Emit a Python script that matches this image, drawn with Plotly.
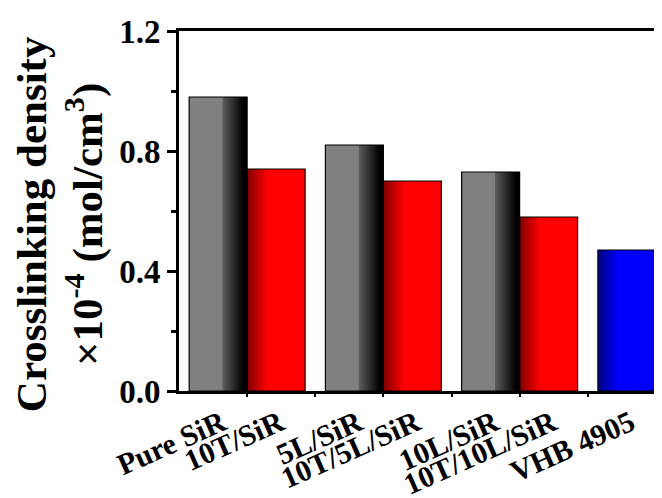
import plotly.graph_objects as go

# ---- data ----
labels_a = ["Pure SiR", "5L/SiR", "10L/SiR", "VHB 4905"]
values_a = [0.98, 0.82, 0.73, 0.47]
labels_b = ["10T/SiR", "10T/5L/SiR", "10T/10L/SiR"]
values_b = [0.74, 0.70, 0.58]
y_ticks = [0.0, 0.4, 0.8, 1.2]

# ---- style ----
FONT = "Liberation Serif, Times New Roman, serif"
BAR_W = 0.4255
N = 40
STRIP = BAR_W / N
groups_a = list(range(len(values_a)))
groups_b = list(range(len(values_b)))


def gray_col(t):
    if t < 0.58:
        v = 128
    elif t < 0.94:
        v = int(92 * (1 - (t - 0.58) / 0.36))
    else:
        v = 0
    return f"rgb({v},{v},{v})"


def red_col(t):
    v = int(128 + 127 * min(t / 0.36, 1.0))
    return f"rgb({v},0,0)"


def blue_col(t):
    v = int(128 + 127 * min(t / 0.36, 1.0))
    return f"rgb(0,0,{v})"


fig = go.Figure()
for i in range(N):
    t = (i + 0.5) / N
    w = STRIP * (1.6 if i < N - 1 else 1.0)
    cols_a = [gray_col(t)] * (len(values_a) - 1) + [blue_col(t)]
    fig.add_trace(go.Bar(x=groups_a, y=values_a, offset=-BAR_W + i * STRIP, width=w,
                         marker=dict(color=cols_a, line=dict(width=0)),
                         showlegend=False, hoverinfo="skip"))
    fig.add_trace(go.Bar(x=groups_b, y=values_b, offset=i * STRIP, width=w,
                         marker=dict(color=red_col(t), line=dict(width=0)),
                         showlegend=False, hoverinfo="skip"))

# outlines
fig.add_trace(go.Bar(x=groups_a, y=values_a, offset=-BAR_W, width=BAR_W,
                     marker=dict(color="rgba(0,0,0,0)", line=dict(color="black", width=1.2)),
                     showlegend=False, hovertext=labels_a))
fig.add_trace(go.Bar(x=groups_b, y=values_b, offset=0, width=BAR_W,
                     marker=dict(color="rgba(0,0,0,0)", line=dict(color="black", width=1.2)),
                     showlegend=False, hovertext=labels_b))

tick_pos = []
tick_txt = []
for g, lab in zip(groups_a, labels_a):
    tick_pos.append(g - BAR_W / 2)
    tick_txt.append(lab)
for g, lab in zip(groups_b, labels_b):
    tick_pos.append(g + BAR_W / 2)
    tick_txt.append(lab)

group_ticks = [g for g in groups_a] + [g + 0.5 for g in groups_a[:-1]]

# page body has an 8px margin, so the figure is sized to fit the window
fig.update_layout(
    width=654, height=490,
    margin=dict(l=171, r=0, t=23, b=107, autoexpand=False),
    barmode="overlay",
    plot_bgcolor="white", paper_bgcolor="white",
    font=dict(family=FONT, color="black"),
    xaxis=dict(
        range=[-0.5, 3.045],
        tickmode="array", tickvals=tick_pos, ticktext=tick_txt,
        ticks="outside", ticklen=0, tickwidth=0,
        tickangle=-24,
        ticklabelshift=4,
        ticklabelstandoff=0,
        tickfont=dict(family=FONT, size=30, weight="bold", color="black"),
        showline=True, linecolor="black", linewidth=3, mirror=True,
        showgrid=False, zeroline=False,
        minor=dict(tickmode="array", tickvals=group_ticks, ticks="outside",
                   ticklen=3, tickwidth=1.5, tickcolor="black", showgrid=False),
    ),
    yaxis=dict(
        range=[0, 1.2],
        tickmode="array", tickvals=y_ticks, ticktext=[f"{v:.1f}" for v in y_ticks],
        ticks="outside", ticklen=9, tickwidth=3, tickcolor="black",
        tickfont=dict(family=FONT, size=33, weight="bold", color="black"),
        showline=True, linecolor="black", linewidth=3, mirror=False,
        showgrid=False, zeroline=False,
        minor=dict(dtick=0.2, ticks="outside", ticklen=5, tickwidth=3,
                   tickcolor="black", showgrid=False),
    ),
    annotations=[dict(
        text="Crosslinking density<br>×10<sup>-4</sup> (mol/cm<sup>3</sup>)",
        textangle=-90, xref="paper", yref="paper",
        x=-0.246, y=0.464, xanchor="center", yanchor="middle",
        showarrow=False,
        font=dict(family=FONT, size=43, weight="bold", color="black"),
    )],
)

fig.write_html("out.html")
